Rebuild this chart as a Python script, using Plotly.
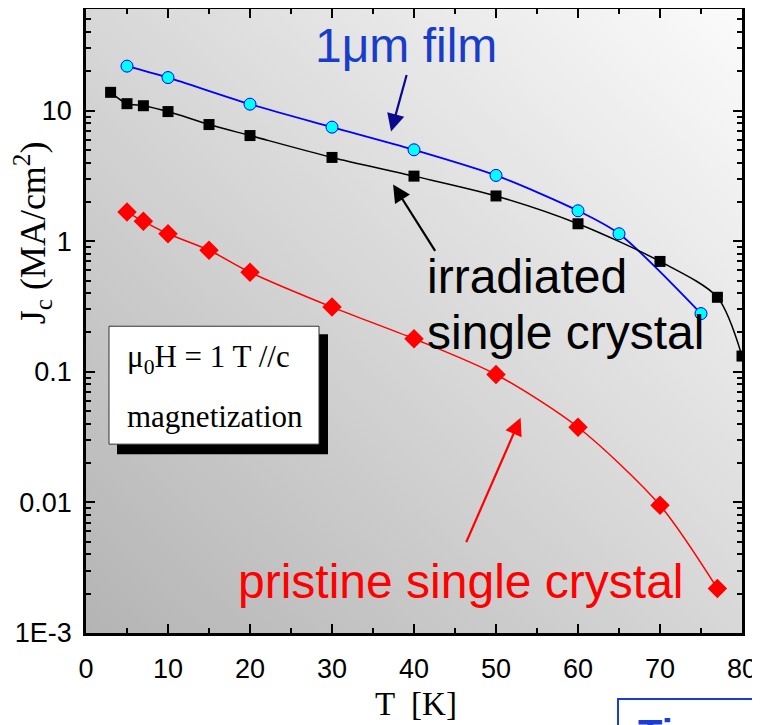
import base64
import plotly.graph_objects as go

# ---- data ----
T_film = [5, 10, 20, 30, 40, 50, 60, 65, 75]
Jc_film = [21.9, 17.9, 11.2, 7.47, 5.01, 3.19, 1.71, 1.14, 0.279]

T_irr = [3, 5, 7, 10, 15, 20, 30, 40, 50, 60, 70, 77, 80]
Jc_irr = [13.8, 11.3, 10.9, 9.83, 7.82, 6.44, 4.38, 3.15, 2.22, 1.36, 0.70, 0.372, 0.132]

T_pri = [5, 7, 10, 15, 20, 30, 40, 50, 60, 70, 77]
Jc_pri = [1.67, 1.42, 1.14, 0.853, 0.579, 0.313, 0.179, 0.0953, 0.0376, 0.0095, 0.00219]

y_tickvals = [0.001, 0.01, 0.1, 1, 10]
y_ticktext = ["1E-3", "0.01", "0.1", "1", "10"]
x_tickvals = [0, 10, 20, 30, 40, 50, 60, 70, 80]

# ---- layout geometry (page pixels; page body has an 8px margin) ----
OFF = 8
W, H = 760 - OFF, 725 - OFF
L, R, TOP, BOT = 86, 742, 8.5, 633   # plot-area edges in page pixels


def px(x):
    return (x - L) / (R - L)


def py(y):
    return (BOT - y) / (BOT - TOP)


fig = go.Figure()

fig.add_trace(go.Scatter(
    x=T_film, y=Jc_film, mode="lines+markers",
    line=dict(color="#0000ff", width=1.8, shape="spline", smoothing=0.8),
    marker=dict(symbol="circle", size=12, color="#00ffff",
                line=dict(color="#0000ff", width=1)),
    showlegend=False))

fig.add_trace(go.Scatter(
    x=T_irr, y=Jc_irr, mode="lines+markers",
    line=dict(color="#000000", width=1.5, shape="spline", smoothing=0.8),
    marker=dict(symbol="square", size=11, color="#000000"),
    showlegend=False))

fig.add_trace(go.Scatter(
    x=T_pri, y=Jc_pri, mode="lines+markers",
    line=dict(color="#ff0000", width=1.5, shape="spline", smoothing=0.8),
    marker=dict(symbol="diamond", size=15, color="#ff0000"),
    showlegend=False))

# gradient background
svg = ('<svg xmlns="http://www.w3.org/2000/svg" width="100" height="100" '
       'preserveAspectRatio="none"><defs><linearGradient id="g" x1="0" y1="1" '
       'x2="1" y2="0"><stop offset="0" stop-color="#b4b4b4"/>'
       '<stop offset="1" stop-color="#fbfbfb"/></linearGradient></defs>'
       '<rect width="100" height="100" fill="url(#g)"/></svg>')
src = "data:image/svg+xml;base64," + base64.b64encode(svg.encode()).decode()

shapes = [
    # legend box shadow + box
    dict(type="rect", xref="paper", yref="paper",
         x0=px(117), x1=px(328), y0=py(454), y1=py(334),
         fillcolor="black", line=dict(width=0), layer="above"),
    dict(type="rect", xref="paper", yref="paper",
         x0=px(109), x1=px(319), y0=py(444), y1=py(326),
         fillcolor="white", line=dict(color="#333333", width=1), layer="above"),
    # partial blue box at the bottom right
    dict(type="rect", xref="paper", yref="paper",
         x0=px(618), x1=px(800), y0=py(760), y1=py(699),
         fillcolor="white", line=dict(color="#1a3dd8", width=2), layer="above"),
]

ann = []
serif = "Liberation Serif, Times New Roman, serif"
sans = "Liberation Sans, Arial, sans-serif"

ann.append(dict(xref="paper", yref="paper", x=px(125), y=py(359),
                text="μ<sub>0</sub>H = 1 T //c", showarrow=False,
                xanchor="left", yanchor="middle",
                font=dict(family=serif, size=31, color="black")))
ann.append(dict(xref="paper", yref="paper", x=px(125), y=py(416),
                text="magnetization", showarrow=False,
                xanchor="left", yanchor="middle",
                font=dict(family=serif, size=31, color="black")))

ann.append(dict(xref="paper", yref="paper", x=px(313), y=py(45),
                text="1μm film", showarrow=False, xanchor="left", yanchor="middle",
                font=dict(family=sans, size=48, color="#1a3dc8")))
ann.append(dict(xref="paper", yref="paper", x=px(425), y=py(276),
                text="irradiated", showarrow=False, xanchor="left", yanchor="middle",
                font=dict(family=sans, size=48, color="black")))
ann.append(dict(xref="paper", yref="paper", x=px(425), y=py(332),
                text="single crystal", showarrow=False, xanchor="left", yanchor="middle",
                font=dict(family=sans, size=48, color="black")))
ann.append(dict(xref="paper", yref="paper", x=px(236), y=py(581),
                text="pristine single crystal", showarrow=False, xanchor="left",
                yanchor="middle", font=dict(family=sans, size=48, color="#ff0000")))

# arrows
ann.append(dict(x=37.2, y=0.84, xref="x", yref="y", text="", showarrow=True,
                ax=16, ay=-58, arrowhead=2, arrowsize=1.6, arrowwidth=2.2,
                arrowcolor="#0a0a8c"))
ann.append(dict(x=37.45, y=0.435, xref="x", yref="y", text="", showarrow=True,
                ax=43, ay=68, arrowhead=2, arrowsize=1.6, arrowwidth=2.2,
                arrowcolor="black"))
ann.append(dict(x=53.0, y=-1.351, xref="x", yref="y", text="", showarrow=True,
                ax=-55, ay=126, arrowhead=2, arrowsize=1.6, arrowwidth=2.2,
                arrowcolor="#ff0000"))

# axis titles
ann.append(dict(xref="paper", yref="paper", x=px(416), y=py(704),
                text="T  [K]", showarrow=False, xanchor="center", yanchor="middle",
                font=dict(family=serif, size=33, color="black")))
ann.append(dict(xref="paper", yref="paper", x=px(33), y=py(233),
                text="J<sub>c</sub> (MA/cm<sup>2</sup>)", showarrow=False,
                textangle=-90, xanchor="center", yanchor="middle",
                font=dict(family=serif, size=36, color="black")))
# partial text in bottom-right box
ann.append(dict(xref="paper", yref="paper", x=px(636), y=py(710),
                text="<b>Ti</b>", showarrow=False, xanchor="left", yanchor="top",
                font=dict(family=sans, size=40, color="#1a3dd8")))

fig.update_layout(
    width=W, height=H,
    margin=dict(l=L - OFF, r=760 - R, t=TOP - OFF, b=725 - BOT, autoexpand=False),
    paper_bgcolor="white", plot_bgcolor="rgba(0,0,0,0)",
    images=[dict(source=src, xref="paper", yref="paper", x=0, y=1,
                 sizex=1, sizey=1, sizing="stretch", layer="below",
                 xanchor="left", yanchor="top")],
    shapes=shapes, annotations=ann,
)

fig.update_xaxes(range=[0, 80], tickvals=x_tickvals, ticks="inside", ticklen=9,
                 tickwidth=2, tickcolor="black", showline=True, linewidth=2.5,
                 linecolor="black", mirror="ticks", showgrid=False, zeroline=False,
                 automargin=False,
                 tickfont=dict(family=sans, size=27, color="black"),
                 ticklabelstandoff=10,
                 minor=dict(dtick=5, ticks="inside", ticklen=5, tickwidth=2,
                            tickcolor="black", showgrid=False))

fig.update_yaxes(type="log", range=[-3, 1.778], tickvals=y_tickvals,
                 ticktext=y_ticktext, ticks="inside", ticklen=9, tickwidth=2,
                 tickcolor="black", showline=True, linewidth=2.5, linecolor="black",
                 mirror="ticks", showgrid=False, zeroline=False,
                 automargin=False,
                 tickfont=dict(family=sans, size=27, color="black"),
                 ticklabelstandoff=6,
                 minor=dict(ticks="inside", ticklen=5, tickwidth=2,
                            tickcolor="black", showgrid=False, dtick="D1"))

fig.write_html("out.html")
